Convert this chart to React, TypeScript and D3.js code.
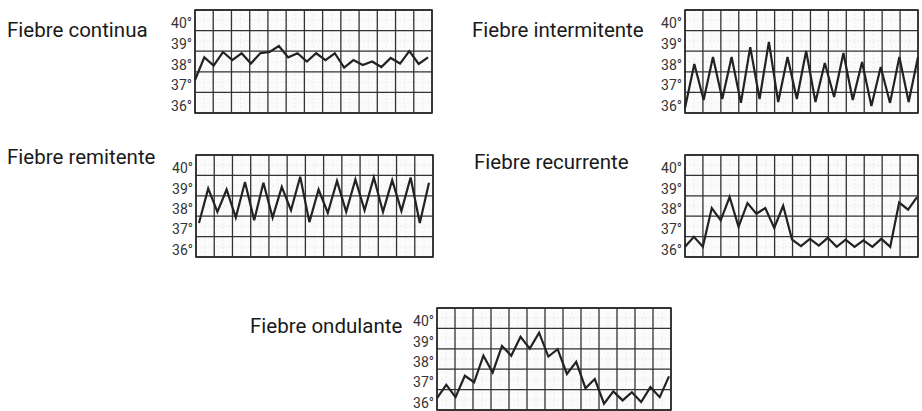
import * as d3 from 'd3';

// temperature readings (°C), two readings per grid column
const continua = [
  37.1, 38.2, 37.8, 38.46, 38.07, 38.4, 37.9, 38.4, 38.46, 38.75, 38.2, 38.4, 38.0,
  38.4, 38.07, 38.4, 37.7, 38.07, 37.83, 38.0, 37.73, 38.17, 37.9, 38.5, 37.88, 38.2
];
const intermitente = [
  35.74, 37.88, 36.13, 38.22, 36.18, 38.22, 35.99, 38.7, 36.18, 38.95, 36.03, 38.22, 36.18,
  38.51, 36.03, 37.93, 36.28, 38.41, 36.13, 37.98, 35.84, 37.73, 35.99, 38.22, 36.03, 38.22
];
const remitente = [
  37.17, 38.86, 37.71, 38.81, 37.43, 39.18, 37.3, 39.14, 37.43, 38.94, 37.79, 39.43, 37.21,
  38.81, 37.66, 39.23, 37.71, 39.3, 37.79, 39.4, 37.71, 39.27, 37.76, 39.4, 37.17, 39.14
];
const recurrente = [
  36.0, 36.49, 36.0, 37.9, 37.3, 38.44, 36.98, 38.14, 37.62, 37.9, 36.92, 38.01, 36.35, 36.03,
  36.39, 36.06, 36.44, 36.0, 36.35, 36.0, 36.32, 36.0, 36.39, 36.0, 38.17, 37.82, 38.44
];
const ondulante = [
  36.08, 36.73, 36.13, 37.18, 36.86, 38.16, 37.34, 38.64, 38.16, 39.09, 38.51, 39.29, 38.12,
  38.48, 37.27, 37.86, 36.57, 37.02, 35.81, 36.41, 35.97, 36.37, 35.89, 36.62, 36.13, 37.15
];

const tempTicks = [40, 39, 38, 37, 36];
const titles = [
  'Fiebre continua',
  'Fiebre intermitente',
  'Fiebre remitente',
  'Fiebre recurrente',
  'Fiebre ondulante'
];
const series = [continua, intermitente, remitente, recurrente, ondulante];

// layout of each small chart on the page
const panels = [
  { tx: 7, ty: 37, x: 195, y: 10, w: 237, h: 103, padL: 0, padR: 4 },
  { tx: 472, ty: 37, x: 685, y: 10, w: 233, h: 103, padL: 0, padR: 0 },
  { tx: 7, ty: 164, x: 196, y: 155, w: 237, h: 102, padL: 3, padR: 4 },
  { tx: 474, ty: 169, x: 685, y: 155, w: 233, h: 102, padL: 0, padR: 1 },
  { tx: 250, ty: 333, x: 437, y: 308, w: 234, h: 102, padL: 0, padR: 2 }
];

const COLS = 13;
const ROWS = 5;

function FeverChart({ idx }: { idx: number }) {
  const p = panels[idx];
  const data = series[idx];

  const xScale = d3
    .scaleLinear()
    .domain([0, data.length - 1])
    .range([p.x + p.padL, p.x + p.w - p.padR]);
  const yScale = d3.scaleLinear().domain([35.5, 40.5]).range([p.y + p.h, p.y]);

  const colScale = d3.scaleLinear().domain([0, COLS]).range([p.x, p.x + p.w]);
  const rowScale = d3.scaleLinear().domain([0, ROWS]).range([p.y, p.y + p.h]);

  const line = d3
    .line<number>()
    .x((_, i) => xScale(i))
    .y((d) => yScale(d));

  return (
    <g>
      <text x={p.tx} y={p.ty} fontFamily="Roboto, sans-serif" fontSize={20.5} fill="#1a1a1a">
        {titles[idx]}
      </text>
      <rect x={p.x} y={p.y} width={p.w} height={p.h} fill="#fbfbfb" />
      {/* faint minor grid, like the printed chart paper */}
      {d3.range(COLS * 2).map((c) => (
        <line
          key={'mc' + c}
          x1={colScale(c / 2)}
          x2={colScale(c / 2)}
          y1={p.y}
          y2={p.y + p.h}
          stroke="#e8e8e8"
          strokeWidth={0.8}
          strokeDasharray="2 2"
        />
      ))}
      {d3.range(ROWS * 2).map((r) => (
        <line
          key={'mr' + r}
          x1={p.x}
          x2={p.x + p.w}
          y1={rowScale(r / 2)}
          y2={rowScale(r / 2)}
          stroke="#e8e8e8"
          strokeWidth={0.8}
          strokeDasharray="2 2"
        />
      ))}
      {d3.range(COLS + 1).map((c) => (
        <line
          key={'c' + c}
          x1={colScale(c)}
          x2={colScale(c)}
          y1={p.y}
          y2={p.y + p.h}
          stroke="#333"
          strokeWidth={1.3}
        />
      ))}
      {d3.range(ROWS + 1).map((r) => (
        <line
          key={'r' + r}
          x1={p.x}
          x2={p.x + p.w}
          y1={rowScale(r)}
          y2={rowScale(r)}
          stroke="#333"
          strokeWidth={1.3}
        />
      ))}
      <rect x={p.x} y={p.y} width={p.w} height={p.h} fill="none" stroke="#2a2a2a" strokeWidth={1.6} />
      {tempTicks.map((t) => (
        <text
          key={t}
          x={p.x - 3}
          y={yScale(t) + 8}
          textAnchor="end"
          fontFamily="Roboto, sans-serif"
          fontSize={14}
          fill="#333"
        >
          {t}°
        </text>
      ))}
      <path
        d={line(data) ?? ''}
        fill="none"
        stroke="#222"
        strokeWidth={2.2}
        strokeLinejoin="miter"
      />
    </g>
  );
}

export default function App() {
  return (
    <div style={{ position: 'absolute', left: 0, top: 0 }}>
      <svg width={922} height={411} style={{ display: 'block', background: '#fff' }}>
        {panels.map((_, i) => (
          <FeverChart key={i} idx={i} />
        ))}
      </svg>
    </div>
  );
}
